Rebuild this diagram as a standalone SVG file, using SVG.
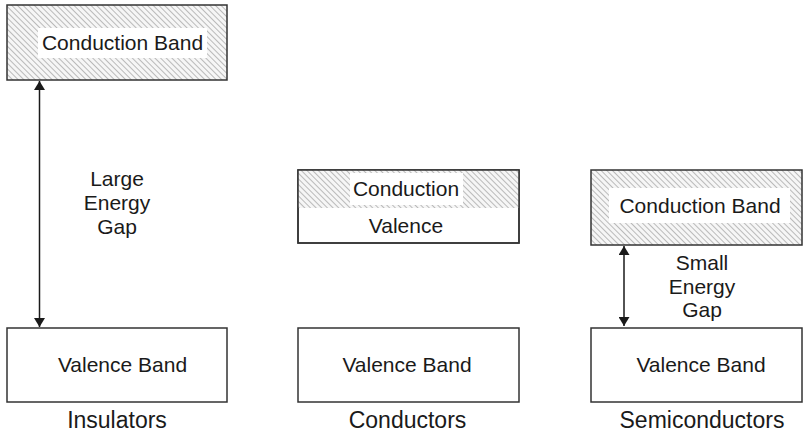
<svg xmlns="http://www.w3.org/2000/svg" width="807" height="434" viewBox="0 0 807 434">
<style>
text{font-family:"Liberation Sans",Arial,sans-serif;fill:#1a1a1a;text-anchor:middle}
.t{font-size:21px}
.l{font-size:23px}
.box{fill:#fff;stroke:#333;stroke-width:1.5}
.hb{fill:url(#hatch);stroke:#333;stroke-width:1.5}
.wb{fill:#fff;stroke:none}
.conn{stroke:#1a1a1a;stroke-width:1.5;fill:none;marker-start:url(#ah);marker-end:url(#ah)}
</style>
<defs>
<pattern id="hatch" patternUnits="userSpaceOnUse" width="4" height="4" patternTransform="rotate(-45)">
<rect width="4" height="4" fill="#f6f6f6"/>
<line x1="0" y1="0" x2="0" y2="4" stroke="#a0a0a0" stroke-width="1.4"/>
</pattern>
<marker id="ah" viewBox="0 0 10 10" refX="10" refY="5" markerWidth="9" markerHeight="11" markerUnits="userSpaceOnUse" orient="auto-start-reverse" preserveAspectRatio="none">
<path d="M0,0 L10,5 L0,10 z" fill="#1a1a1a"/>
</marker>
</defs>
<g id="connectors">
<line class="conn" x1="39.5" y1="81" x2="39.5" y2="327"/>
<line class="conn" x1="624" y1="246" x2="624" y2="326"/>
</g>
<g id="ins-cond">
<rect class="hb" x="7" y="5" width="220" height="75"/>
<rect class="wb" x="38" y="28" width="169" height="30"/>
<text class="t" x="122.5" y="50">Conduction Band</text>
</g>
<g id="ins-gap">
<text class="t" x="117" y="186">Large</text>
<text class="t" x="117" y="210">Energy</text>
<text class="t" x="117" y="234">Gap</text>
</g>
<g id="ins-val">
<rect class="box" x="7" y="328" width="220" height="74"/>
<text class="t" x="122.5" y="372">Valence Band</text>
</g>
<text id="ins-label" class="l" x="117" y="428">Insulators</text>
<g id="cond-band">
<rect class="box" x="298" y="170" width="221" height="73"/>
<rect x="298" y="170" width="221" height="38" fill="url(#hatch)" stroke="none"/>
<rect x="298" y="170" width="221" height="73" fill="none" stroke="#333" stroke-width="1.5"/>
<rect class="wb" x="350" y="173" width="113" height="32"/>
<text class="t" x="406" y="195.5">Conduction</text>
<text class="t" x="406" y="233">Valence</text>
</g>
<g id="cond-val">
<rect class="box" x="298" y="328" width="221" height="74"/>
<text class="t" x="407" y="372">Valence Band</text>
</g>
<text id="cond-label" class="l" x="407.5" y="428">Conductors</text>
<g id="semi-cond">
<rect class="hb" x="591" y="170" width="211" height="75"/>
<rect class="wb" x="609" y="188" width="181" height="35"/>
<text class="t" x="700" y="213">Conduction Band</text>
</g>
<g id="semi-gap">
<text class="t" x="702" y="270">Small</text>
<text class="t" x="702" y="294">Energy</text>
<text class="t" x="702" y="317">Gap</text>
</g>
<g id="semi-val">
<rect class="box" x="591" y="328" width="211" height="74"/>
<text class="t" x="701" y="372">Valence Band</text>
</g>
<text id="semi-label" class="l" x="702" y="428">Semiconductors</text>
</svg>
